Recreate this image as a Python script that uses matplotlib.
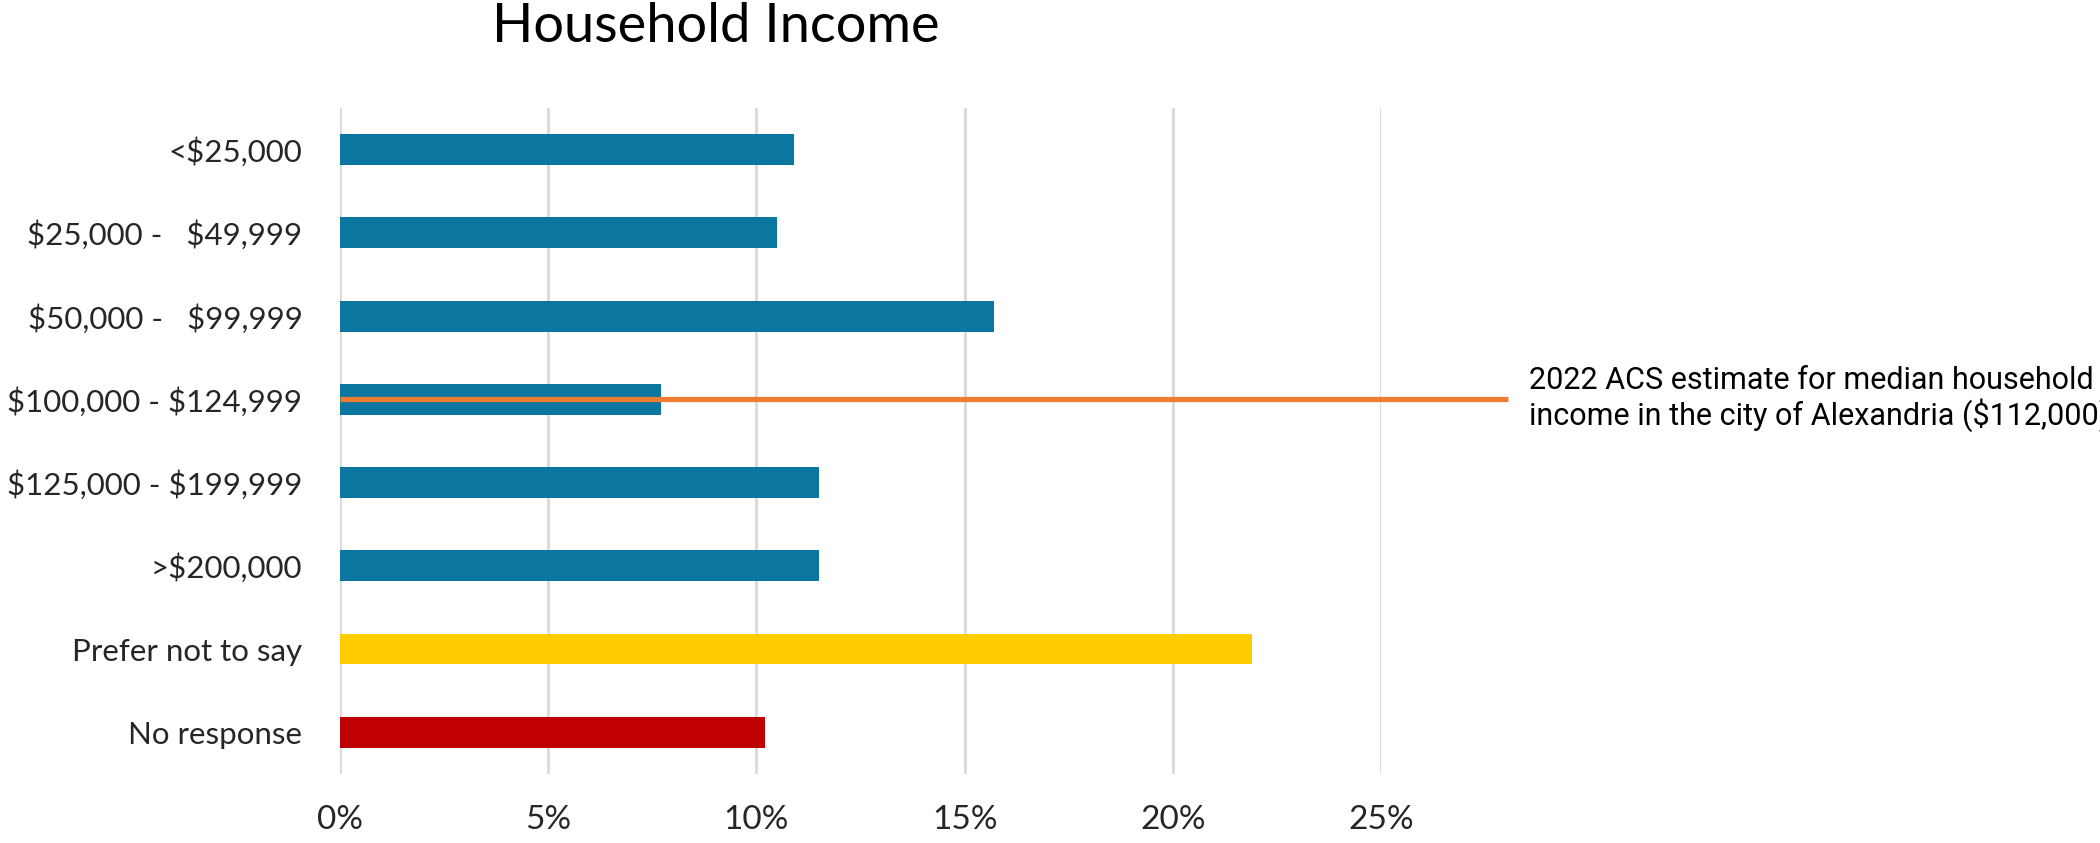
import matplotlib
matplotlib.use("Agg")
import matplotlib.pyplot as plt

# Household income survey responses (share of respondents, %)
categories = [r"<\$25,000", r"\$25,000 -   \$49,999", r"\$50,000 -   \$99,999",
              r"\$100,000 - \$124,999", r"\$125,000 - \$199,999", r">\$200,000",
              "Prefer not to say", "No response"]
shares = [10.9, 10.5, 15.7, 7.7, 11.5, 11.5, 21.9, 10.2]
bar_colors = ["#0B76A0"] * 6 + ["#FFCC00", "#C00000"]
x_ticks = [0, 5, 10, 15, 20, 25]

# median household income marker sits on the $100k-$125k row
median_row = 3
median_line_end = 28.06
median_note = ("2022 ACS estimate for median household\n"
               r"income in the city of Alexandria (\$112,000)")

fig = plt.figure(figsize=(21, 8.43), dpi=100)
ax = fig.add_axes([0.1619, 0.0819, 0.4957, 0.79])

y = list(range(len(categories)))
ax.barh(y, shares, height=0.37, color=bar_colors, zorder=3)

ax.set_ylim(len(categories) - 0.5, -0.5)
ax.set_xlim(0, 25)
ax.set_xticks(x_ticks)
ax.set_xticklabels([f"{t}%" for t in x_ticks])
ax.set_yticks(y)
ax.set_yticklabels(categories)

for s in ax.spines.values():
    s.set_visible(False)
ax.grid(axis="x", color="#D9D9D9", linewidth=2, zorder=0)
ax.tick_params(axis="both", length=0, colors="#262626")
ax.tick_params(axis="y", pad=27, labelsize=22.5)
ax.tick_params(axis="x", pad=22, labelsize=24)
for lab in ax.get_xticklabels() + ax.get_yticklabels():
    lab.set_family("Lato")

ax.plot([0, median_line_end], [median_row, median_row], color="#ED7D31",
        linewidth=3.8, solid_capstyle="butt", clip_on=False, zorder=4)

# the note runs off the right edge, as in the source image
fig.text(1529 / 2100, 1 - 399 / 843, median_note, family="Roboto", fontsize=22,
         color="black", ha="left", va="center", linespacing=1.15)

fig.text(716 / 2100, 1 - 26 / 843, "Household Income", family="Lato",
         fontsize=39, color="black", ha="center", va="center")

fig.savefig("out.png", dpi=100)
